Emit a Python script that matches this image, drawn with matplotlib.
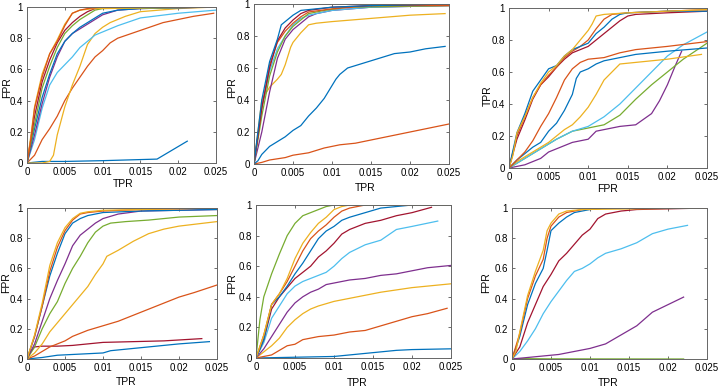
"""
Six ROC-style panels (TPR/FPR), MATLAB look.
Saves out.png (720x390).
"""

import matplotlib
matplotlib.use('Agg')
from matplotlib import pyplot

# MATLAB default colour order
BLUE = '#0072BD'
ORANGE = '#D95319'
YELLOW = '#EDB120'
PURPLE = '#7E2F8E'
GREEN = '#77AC30'
LBLUE = '#4DBEEE'
DRED = '#A2142F'

# ---------------- panel 1 (top left) ----------------
p1_blue_low_x = [0, 0.002, 0.005, 0.01, 0.0172, 0.0212]
p1_blue_low_y = [0, 0.01, 0.01, 0.015, 0.025, 0.14]
p1_orange_low_x = [0, 0.001, 0.002, 0.003, 0.004, 0.005, 0.006, 0.007, 0.008, 0.009, 0.01, 0.011, 0.012, 0.015, 0.018, 0.02, 0.022, 0.0247]
p1_orange_low_y = [0, 0.05, 0.15, 0.22, 0.3, 0.4, 0.48, 0.55, 0.62, 0.68, 0.72, 0.77, 0.8, 0.85, 0.9, 0.92, 0.94, 0.96]
p1_yellow_low_x = [0, 0.002, 0.003, 0.0035, 0.004, 0.005, 0.006, 0.007, 0.008, 0.009, 0.01, 0.011, 0.013, 0.015, 0.02, 0.025]
p1_yellow_low_y = [0, 0.0, 0.01, 0.05, 0.18, 0.36, 0.5, 0.62, 0.76, 0.83, 0.87, 0.9, 0.94, 0.97, 0.99, 1.0]
p1_lblue_x = [0, 0.001, 0.002, 0.003, 0.004, 0.005, 0.006, 0.007, 0.008, 0.009, 0.01, 0.012, 0.015, 0.02, 0.025]
p1_lblue_y = [0, 0.15, 0.35, 0.5, 0.58, 0.63, 0.68, 0.74, 0.78, 0.82, 0.84, 0.88, 0.93, 0.96, 0.98]
p1_purple_x = [0, 0.001, 0.002, 0.003, 0.004, 0.005, 0.006, 0.007, 0.008, 0.009, 0.01, 0.012, 0.015, 0.025]
p1_purple_y = [0, 0.18, 0.38, 0.55, 0.68, 0.78, 0.83, 0.86, 0.89, 0.92, 0.95, 0.98, 0.99, 1.0]
p1_blue_x = [0, 0.001, 0.002, 0.003, 0.004, 0.005, 0.006, 0.007, 0.008, 0.009, 0.01, 0.012, 0.015, 0.025]
p1_blue_y = [0, 0.22, 0.42, 0.57, 0.7, 0.78, 0.83, 0.87, 0.9, 0.93, 0.96, 0.98, 0.99, 1.0]
p1_green_x = [0, 0.001, 0.002, 0.003, 0.004, 0.005, 0.006, 0.007, 0.008, 0.009, 0.01, 0.025]
p1_green_y = [0, 0.25, 0.48, 0.62, 0.74, 0.83, 0.88, 0.92, 0.95, 0.98, 0.99, 1.0]
p1_dred_x = [0, 0.001, 0.002, 0.003, 0.004, 0.005, 0.006, 0.007, 0.008, 0.009, 0.012, 0.025]
p1_dred_y = [0, 0.3, 0.52, 0.66, 0.77, 0.85, 0.9, 0.94, 0.97, 0.99, 1.0, 1.0]
p1_yellow_x = [0, 0.0005, 0.001, 0.002, 0.003, 0.004, 0.005, 0.006, 0.007, 0.009, 0.025]
p1_yellow_y = [0, 0.17, 0.36, 0.57, 0.7, 0.79, 0.89, 0.96, 0.98, 0.99, 1.0]
p1_orange_x = [0, 0.0005, 0.001, 0.002, 0.003, 0.004, 0.005, 0.006, 0.007, 0.008, 0.01, 0.025]
p1_orange_y = [0, 0.15, 0.35, 0.55, 0.7, 0.78, 0.88, 0.96, 0.98, 0.99, 1.0, 1.0]

# ---------------- panel 2 (top middle) ----------------
p2_orange_low_x = [0, 0.001, 0.002, 0.004, 0.005, 0.007, 0.009, 0.011, 0.013, 0.015, 0.018, 0.02, 0.022, 0.025]
p2_orange_low_y = [0, 0.01, 0.025, 0.04, 0.055, 0.07, 0.1, 0.12, 0.13, 0.15, 0.18, 0.2, 0.22, 0.25]
p2_blue_low_x = [0, 0.0005, 0.001, 0.002, 0.003, 0.004, 0.005, 0.006, 0.007, 0.008, 0.009, 0.01, 0.0105, 0.011, 0.012, 0.014, 0.016, 0.018, 0.02, 0.022, 0.0245]
p2_blue_low_y = [0, 0.02, 0.06, 0.11, 0.14, 0.17, 0.21, 0.24, 0.3, 0.35, 0.41, 0.49, 0.53, 0.56, 0.6, 0.63, 0.66, 0.69, 0.7, 0.72, 0.735]
p2_yellow_x = [0, 0.001, 0.002, 0.003, 0.0035, 0.004, 0.0047, 0.005, 0.006, 0.007, 0.008, 0.01, 0.015, 0.02, 0.0245]
p2_yellow_y = [0, 0.4, 0.48, 0.53, 0.56, 0.62, 0.73, 0.76, 0.82, 0.87, 0.88, 0.89, 0.91, 0.93, 0.94]
p2_purple_x = [0, 0.001, 0.002, 0.003, 0.004, 0.005, 0.006, 0.007, 0.008, 0.01, 0.015, 0.025]
p2_purple_y = [0, 0.2, 0.45, 0.66, 0.78, 0.84, 0.88, 0.92, 0.94, 0.96, 0.98, 0.99]
p2_lblue_x = [0, 0.001, 0.002, 0.003, 0.004, 0.005, 0.006, 0.007, 0.01, 0.015, 0.025]
p2_lblue_y = [0, 0.35, 0.58, 0.72, 0.8, 0.87, 0.91, 0.93, 0.96, 0.98, 0.99]
p2_green_x = [0, 0.001, 0.002, 0.003, 0.004, 0.005, 0.006, 0.007, 0.009, 0.012, 0.025]
p2_green_y = [0, 0.3, 0.55, 0.7, 0.8, 0.86, 0.9, 0.94, 0.96, 0.98, 0.99]
p2_orange_x = [0, 0.001, 0.002, 0.003, 0.004, 0.005, 0.006, 0.007, 0.01, 0.015, 0.025]
p2_orange_y = [0, 0.35, 0.62, 0.76, 0.83, 0.88, 0.92, 0.95, 0.97, 0.99, 0.99]
p2_dred_x = [0, 0.001, 0.002, 0.003, 0.004, 0.005, 0.006, 0.007, 0.01, 0.015, 0.025]
p2_dred_y = [0, 0.35, 0.6, 0.77, 0.85, 0.9, 0.94, 0.96, 0.98, 0.99, 1.0]
p2_blue_x = [0, 0.0005, 0.001, 0.002, 0.003, 0.0035, 0.004, 0.005, 0.006, 0.008, 0.01, 0.015, 0.025]
p2_blue_y = [0, 0.2, 0.4, 0.64, 0.78, 0.87, 0.89, 0.93, 0.96, 0.97, 0.98, 0.99, 1.0]

# ---------------- panel 3 (top right) ----------------
p3_purple_x = [0, 0.001, 0.002, 0.003, 0.004, 0.005, 0.006, 0.007, 0.008, 0.01, 0.011, 0.012, 0.014, 0.016, 0.018, 0.019, 0.02, 0.021, 0.0218]
p3_purple_y = [0, 0.01, 0.02, 0.04, 0.06, 0.1, 0.12, 0.14, 0.16, 0.18, 0.23, 0.24, 0.26, 0.27, 0.34, 0.42, 0.52, 0.64, 0.73]
p3_green_x = [0, 0.002, 0.004, 0.006, 0.008, 0.01, 0.012, 0.014, 0.016, 0.018, 0.02, 0.022, 0.025]
p3_green_y = [0, 0.06, 0.12, 0.18, 0.23, 0.25, 0.27, 0.33, 0.43, 0.52, 0.6, 0.68, 0.78]
p3_lblue_x = [0, 0.002, 0.004, 0.006, 0.008, 0.01, 0.012, 0.014, 0.016, 0.018, 0.02, 0.022, 0.025]
p3_lblue_y = [0, 0.06, 0.12, 0.18, 0.23, 0.26, 0.32, 0.4, 0.5, 0.6, 0.7, 0.77, 0.85]
p3_yellow_low_x = [0, 0.001, 0.002, 0.003, 0.004, 0.005, 0.006, 0.007, 0.008, 0.009, 0.01, 0.011, 0.012, 0.013, 0.014, 0.016, 0.02, 0.0243]
p3_yellow_low_y = [0, 0.04, 0.07, 0.1, 0.13, 0.16, 0.2, 0.24, 0.27, 0.32, 0.38, 0.46, 0.55, 0.6, 0.65, 0.66, 0.68, 0.71]
p3_blue_low_x = [0, 0.001, 0.002, 0.003, 0.004, 0.005, 0.006, 0.007, 0.008, 0.0085, 0.009, 0.01, 0.011, 0.012, 0.014, 0.016, 0.02, 0.025]
p3_blue_low_y = [0, 0.05, 0.09, 0.13, 0.16, 0.23, 0.28, 0.36, 0.46, 0.56, 0.6, 0.62, 0.65, 0.67, 0.69, 0.71, 0.73, 0.75]
p3_orange_low_x = [0, 0.001, 0.002, 0.003, 0.004, 0.005, 0.006, 0.007, 0.008, 0.009, 0.01, 0.012, 0.014, 0.016, 0.02, 0.025]
p3_orange_low_y = [0, 0.05, 0.1, 0.17, 0.26, 0.34, 0.44, 0.55, 0.62, 0.66, 0.68, 0.69, 0.72, 0.74, 0.76, 0.79]
p3_dred_x = [0, 0.001, 0.002, 0.003, 0.004, 0.005, 0.006, 0.007, 0.008, 0.009, 0.01, 0.011, 0.012, 0.013, 0.014, 0.015, 0.016, 0.02, 0.025]
p3_dred_y = [0, 0.18, 0.3, 0.43, 0.52, 0.57, 0.63, 0.68, 0.72, 0.74, 0.76, 0.8, 0.84, 0.88, 0.92, 0.95, 0.96, 0.97, 0.98]
p3_orange_x = [0, 0.001, 0.002, 0.003, 0.004, 0.005, 0.006, 0.007, 0.008, 0.009, 0.01, 0.011, 0.012, 0.013, 0.015, 0.025]
p3_orange_y = [0, 0.2, 0.32, 0.44, 0.52, 0.58, 0.63, 0.69, 0.73, 0.76, 0.8, 0.87, 0.93, 0.96, 0.97, 0.99]
p3_blue_x = [0, 0.001, 0.002, 0.003, 0.004, 0.005, 0.006, 0.007, 0.008, 0.009, 0.01, 0.011, 0.012, 0.013, 0.014, 0.015, 0.02, 0.025]
p3_blue_y = [0, 0.22, 0.34, 0.48, 0.55, 0.62, 0.64, 0.7, 0.74, 0.76, 0.78, 0.84, 0.88, 0.93, 0.96, 0.97, 0.98, 0.98]
p3_yellow_x = [0, 0.0005, 0.001, 0.002, 0.003, 0.004, 0.005, 0.006, 0.007, 0.008, 0.009, 0.01, 0.0105, 0.011, 0.012, 0.015, 0.02, 0.025]
p3_yellow_y = [0, 0.08, 0.22, 0.32, 0.44, 0.53, 0.6, 0.64, 0.7, 0.74, 0.8, 0.86, 0.9, 0.95, 0.96, 0.97, 0.98, 0.99]

# ---------------- panel 4 (bottom left) ----------------
p4_blue_low_x = [0, 0.002, 0.004, 0.006, 0.008, 0.01, 0.011, 0.014, 0.017, 0.02, 0.024]
p4_blue_low_y = [0, 0.01, 0.025, 0.03, 0.035, 0.04, 0.055, 0.07, 0.085, 0.1, 0.115]
p4_dred_x = [0, 0.0005, 0.001, 0.002, 0.004, 0.006, 0.008, 0.01, 0.014, 0.018, 0.023]
p4_dred_y = [0, 0.05, 0.08, 0.085, 0.085, 0.09, 0.1, 0.11, 0.115, 0.12, 0.135]
p4_orange_low_x = [0, 0.001, 0.002, 0.003, 0.004, 0.005, 0.006, 0.007, 0.008, 0.01, 0.012, 0.014, 0.016, 0.018, 0.02, 0.022, 0.025]
p4_orange_low_y = [0, 0.02, 0.05, 0.08, 0.1, 0.12, 0.15, 0.17, 0.19, 0.22, 0.25, 0.29, 0.33, 0.37, 0.41, 0.44, 0.49]
p4_yellow_low_x = [0, 0.001, 0.002, 0.003, 0.004, 0.005, 0.006, 0.007, 0.008, 0.009, 0.01, 0.0105, 0.012, 0.014, 0.016, 0.018, 0.02, 0.025]
p4_yellow_low_y = [0, 0.04, 0.1, 0.18, 0.24, 0.3, 0.36, 0.42, 0.48, 0.56, 0.63, 0.68, 0.72, 0.78, 0.83, 0.86, 0.88, 0.91]
p4_green_x = [0, 0.001, 0.002, 0.003, 0.004, 0.005, 0.006, 0.007, 0.008, 0.009, 0.01, 0.011, 0.013, 0.016, 0.02, 0.025]
p4_green_y = [0, 0.08, 0.2, 0.3, 0.38, 0.5, 0.6, 0.68, 0.77, 0.84, 0.88, 0.9, 0.91, 0.92, 0.94, 0.95]
p4_purple_x = [0, 0.001, 0.002, 0.003, 0.004, 0.005, 0.006, 0.007, 0.008, 0.009, 0.01, 0.012, 0.015, 0.025]
p4_purple_y = [0, 0.1, 0.25, 0.4, 0.52, 0.63, 0.75, 0.82, 0.86, 0.9, 0.93, 0.96, 0.98, 0.99]
p4_blue_x = [0, 0.001, 0.002, 0.003, 0.004, 0.005, 0.006, 0.007, 0.008, 0.01, 0.015, 0.025]
p4_blue_y = [0, 0.15, 0.35, 0.55, 0.7, 0.83, 0.9, 0.93, 0.95, 0.97, 0.98, 0.99]
p4_orange_x = [0, 0.001, 0.002, 0.003, 0.004, 0.005, 0.006, 0.007, 0.008, 0.01, 0.015, 0.025]
p4_orange_y = [0, 0.15, 0.35, 0.58, 0.74, 0.85, 0.92, 0.96, 0.97, 0.98, 0.99, 1.0]
p4_yellow_x = [0, 0.001, 0.002, 0.003, 0.004, 0.005, 0.006, 0.007, 0.008, 0.01, 0.015, 0.025]
p4_yellow_y = [0, 0.16, 0.37, 0.62, 0.77, 0.87, 0.93, 0.965, 0.975, 0.985, 0.99, 1.0]

# ---------------- panel 5 (bottom middle) ----------------
p5_blue_low_x = [0, 0.005, 0.01, 0.012, 0.014, 0.016, 0.018, 0.02, 0.025]
p5_blue_low_y = [0, 0.005, 0.01, 0.02, 0.03, 0.04, 0.05, 0.055, 0.06]
p5_orange_low_x = [0, 0.001, 0.002, 0.003, 0.004, 0.005, 0.006, 0.008, 0.01, 0.012, 0.014, 0.016, 0.018, 0.02, 0.022, 0.0245]
p5_orange_low_y = [0, 0.01, 0.02, 0.05, 0.08, 0.09, 0.12, 0.14, 0.15, 0.17, 0.18, 0.21, 0.24, 0.27, 0.29, 0.325]
p5_yellow_low_x = [0, 0.001, 0.002, 0.003, 0.004, 0.005, 0.006, 0.007, 0.008, 0.01, 0.012, 0.014, 0.016, 0.018, 0.02, 0.022, 0.025]
p5_yellow_low_y = [0, 0.04, 0.08, 0.13, 0.2, 0.25, 0.29, 0.32, 0.34, 0.37, 0.39, 0.41, 0.43, 0.445, 0.46, 0.47, 0.485]
p5_purple_x = [0, 0.001, 0.002, 0.003, 0.004, 0.005, 0.006, 0.007, 0.008, 0.009, 0.01, 0.012, 0.014, 0.016, 0.018, 0.02, 0.022, 0.025]
p5_purple_y = [0, 0.06, 0.14, 0.22, 0.3, 0.36, 0.4, 0.43, 0.45, 0.48, 0.49, 0.51, 0.52, 0.54, 0.55, 0.57, 0.59, 0.605]
p5_lblue_x = [0, 0.001, 0.002, 0.003, 0.004, 0.005, 0.006, 0.007, 0.008, 0.009, 0.01, 0.011, 0.012, 0.014, 0.016, 0.018, 0.02, 0.0233]
p5_lblue_y = [0, 0.1, 0.26, 0.34, 0.42, 0.47, 0.5, 0.52, 0.54, 0.56, 0.6, 0.65, 0.69, 0.74, 0.77, 0.84, 0.86, 0.895]
p5_dred_x = [0, 0.001, 0.002, 0.003, 0.004, 0.005, 0.006, 0.007, 0.008, 0.009, 0.01, 0.011, 0.012, 0.014, 0.016, 0.018, 0.02, 0.0225]
p5_dred_y = [0, 0.12, 0.32, 0.4, 0.46, 0.52, 0.56, 0.6, 0.66, 0.7, 0.75, 0.81, 0.84, 0.88, 0.9, 0.93, 0.95, 0.985]
p5_blue_x = [0, 0.001, 0.002, 0.003, 0.004, 0.005, 0.006, 0.007, 0.008, 0.009, 0.01, 0.011, 0.012, 0.014, 0.016, 0.018, 0.02, 0.025]
p5_blue_y = [0, 0.12, 0.35, 0.4, 0.47, 0.55, 0.62, 0.7, 0.78, 0.83, 0.86, 0.9, 0.92, 0.95, 0.98, 0.99, 1.0, 1.0]
p5_orange_x = [0, 0.001, 0.002, 0.003, 0.004, 0.005, 0.006, 0.007, 0.008, 0.009, 0.01, 0.011, 0.012, 0.014, 0.025]
p5_orange_y = [0, 0.15, 0.35, 0.42, 0.5, 0.6, 0.7, 0.78, 0.83, 0.87, 0.92, 0.96, 0.98, 1.0, 1.0]
p5_yellow_x = [0, 0.001, 0.002, 0.003, 0.004, 0.005, 0.006, 0.007, 0.008, 0.009, 0.01, 0.011, 0.012, 0.025]
p5_yellow_y = [0, 0.15, 0.35, 0.42, 0.52, 0.65, 0.75, 0.82, 0.88, 0.92, 0.97, 0.99, 1.0, 1.0]
p5_green_x = [0, 0.0005, 0.001, 0.002, 0.003, 0.004, 0.005, 0.006, 0.007, 0.008, 0.009, 0.01, 0.025]
p5_green_y = [0, 0.25, 0.4, 0.55, 0.68, 0.8, 0.88, 0.93, 0.95, 0.97, 0.99, 1.0, 1.0]

# ---------------- panel 6 (bottom right) ----------------
p6_green_x = [0, 0.005, 0.022]
p6_green_y = [0.003, 0.001, 0.0]
p6_purple_x = [0, 0.002, 0.004, 0.006, 0.008, 0.01, 0.012, 0.014, 0.016, 0.018, 0.02, 0.022]
p6_purple_y = [0, 0.01, 0.02, 0.03, 0.05, 0.07, 0.1, 0.16, 0.22, 0.31, 0.36, 0.41]
p6_lblue_x = [0, 0.001, 0.002, 0.003, 0.004, 0.005, 0.006, 0.007, 0.008, 0.009, 0.01, 0.011, 0.012, 0.014, 0.016, 0.018, 0.02, 0.0225]
p6_lblue_y = [0, 0.05, 0.12, 0.2, 0.3, 0.38, 0.45, 0.52, 0.58, 0.6, 0.63, 0.67, 0.7, 0.73, 0.77, 0.83, 0.86, 0.885]
p6_dred_x = [0, 0.001, 0.002, 0.003, 0.004, 0.005, 0.006, 0.007, 0.008, 0.009, 0.01, 0.011, 0.012, 0.014, 0.016, 0.025]
p6_dred_y = [0, 0.08, 0.24, 0.36, 0.48, 0.56, 0.65, 0.7, 0.76, 0.82, 0.86, 0.93, 0.96, 0.98, 0.99, 1.0]
p6_blue_x = [0, 0.001, 0.002, 0.003, 0.004, 0.0045, 0.005, 0.006, 0.007, 0.008, 0.01, 0.012, 0.025]
p6_blue_y = [0, 0.15, 0.36, 0.5, 0.6, 0.72, 0.85, 0.9, 0.94, 0.97, 0.99, 1.0, 1.0]
p6_orange_x = [0, 0.001, 0.002, 0.003, 0.004, 0.0045, 0.005, 0.006, 0.007, 0.009, 0.012, 0.025]
p6_orange_y = [0, 0.17, 0.4, 0.55, 0.66, 0.8, 0.88, 0.94, 0.97, 0.99, 1.0, 1.0]
p6_yellow_x = [0, 0.0005, 0.001, 0.002, 0.003, 0.004, 0.0045, 0.005, 0.006, 0.007, 0.009, 0.025]
p6_yellow_y = [0, 0.05, 0.18, 0.42, 0.58, 0.72, 0.85, 0.9, 0.96, 0.98, 0.99, 1.0]

panels = [
    # box (left, top, right, bottom) px, xlabel + centre px, ylabel + centre px, curves
    ((27, 7, 216, 163), ('TPR', 123, 184), ('FPR', 7, 88), [
        (p1_blue_low_x, p1_blue_low_y, BLUE),
        (p1_orange_low_x, p1_orange_low_y, ORANGE),
        (p1_yellow_low_x, p1_yellow_low_y, YELLOW),
        (p1_lblue_x, p1_lblue_y, LBLUE),
        (p1_purple_x, p1_purple_y, PURPLE),
        (p1_blue_x, p1_blue_y, BLUE),
        (p1_green_x, p1_green_y, GREEN),
        (p1_dred_x, p1_dred_y, DRED),
        (p1_yellow_x, p1_yellow_y, YELLOW),
        (p1_orange_x, p1_orange_y, ORANGE)]),
    ((254, 4, 449, 164), ('TPR', 365, 188), ('FPR', 232, 88), [
        (p2_orange_low_x, p2_orange_low_y, ORANGE),
        (p2_blue_low_x, p2_blue_low_y, BLUE),
        (p2_yellow_x, p2_yellow_y, YELLOW),
        (p2_purple_x, p2_purple_y, PURPLE),
        (p2_lblue_x, p2_lblue_y, LBLUE),
        (p2_green_x, p2_green_y, GREEN),
        (p2_orange_x, p2_orange_y, ORANGE),
        (p2_dred_x, p2_dred_y, DRED),
        (p2_blue_x, p2_blue_y, BLUE)]),
    ((509, 8, 707, 168), ('FPR', 608, 189), ('TPR', 488, 96), [
        (p3_purple_x, p3_purple_y, PURPLE),
        (p3_green_x, p3_green_y, GREEN),
        (p3_lblue_x, p3_lblue_y, LBLUE),
        (p3_yellow_low_x, p3_yellow_low_y, YELLOW),
        (p3_blue_low_x, p3_blue_low_y, BLUE),
        (p3_orange_low_x, p3_orange_low_y, ORANGE),
        (p3_dred_x, p3_dred_y, DRED),
        (p3_orange_x, p3_orange_y, ORANGE),
        (p3_blue_x, p3_blue_y, BLUE),
        (p3_yellow_x, p3_yellow_y, YELLOW)]),
    ((27, 208, 217, 359), ('TPR', 126, 382), ('FPR', 6, 283), [
        (p4_blue_low_x, p4_blue_low_y, BLUE),
        (p4_dred_x, p4_dred_y, DRED),
        (p4_orange_low_x, p4_orange_low_y, ORANGE),
        (p4_yellow_low_x, p4_yellow_low_y, YELLOW),
        (p4_green_x, p4_green_y, GREEN),
        (p4_purple_x, p4_purple_y, PURPLE),
        (p4_blue_x, p4_blue_y, BLUE),
        (p4_orange_x, p4_orange_y, ORANGE),
        (p4_yellow_x, p4_yellow_y, YELLOW)]),
    ((256, 205, 451, 358), ('TPR', 357, 383), ('FPR', 232, 284), [
        (p5_blue_low_x, p5_blue_low_y, BLUE),
        (p5_orange_low_x, p5_orange_low_y, ORANGE),
        (p5_yellow_low_x, p5_yellow_low_y, YELLOW),
        (p5_purple_x, p5_purple_y, PURPLE),
        (p5_lblue_x, p5_lblue_y, LBLUE),
        (p5_dred_x, p5_dred_y, DRED),
        (p5_blue_x, p5_blue_y, BLUE),
        (p5_orange_x, p5_orange_y, ORANGE),
        (p5_yellow_x, p5_yellow_y, YELLOW),
        (p5_green_x, p5_green_y, GREEN)]),
    ((512, 208, 707, 359), ('TPR', 608, 383), ('FPR', 486, 283), [
        (p6_green_x, p6_green_y, GREEN),
        (p6_purple_x, p6_purple_y, PURPLE),
        (p6_lblue_x, p6_lblue_y, LBLUE),
        (p6_dred_x, p6_dred_y, DRED),
        (p6_blue_x, p6_blue_y, BLUE),
        (p6_orange_x, p6_orange_y, ORANGE),
        (p6_yellow_x, p6_yellow_y, YELLOW)]),
]

x_ticks = [0, 0.005, 0.01, 0.015, 0.02, 0.025]
x_ticklabels = ['0', '0.005', '0.01', '0.015', '0.02', '0.025']
y_ticks = [0, 0.2, 0.4, 0.6, 0.8, 1.0]
y_ticklabels = ['0', '0.2', '0.4', '0.6', '0.8', '1']

pyplot.rcParams['font.family'] = ['Liberation Sans', 'DejaVu Sans']

W, H = 720, 390
fig = pyplot.figure(figsize=(W / 100, H / 100), dpi=100)

for (x0, y0, x1, y1), (xl, xlx, xly), (yl, ylx, yly), curves in panels:
    ax = fig.add_axes([x0 / W, 1 - y1 / H, (x1 - x0) / W, (y1 - y0) / H])
    for xs, ys, color in curves:
        ax.plot(xs, ys, color=color, linewidth=0.9)
    ax.set_xlim(0, 0.025)
    ax.set_ylim(0, 1)
    ax.set_xticks(x_ticks)
    ax.set_xticklabels(x_ticklabels)
    ax.set_yticks(y_ticks)
    ax.set_yticklabels(y_ticklabels)
    ax.tick_params(direction='in', top=True, right=True, length=2.5,
                   width=0.6, color='#555555', labelsize=7, pad=3)
    for spine in ax.spines.values():
        spine.set_color('#666666')
        spine.set_linewidth(0.7)
    fig.text(xlx / W, 1 - xly / H, xl, fontsize=7.5,
             ha='center', va='center')
    fig.text(ylx / W, 1 - yly / H, yl, fontsize=7.5, rotation=90,
             ha='center', va='center')

pyplot.savefig('out.png', dpi=100)
